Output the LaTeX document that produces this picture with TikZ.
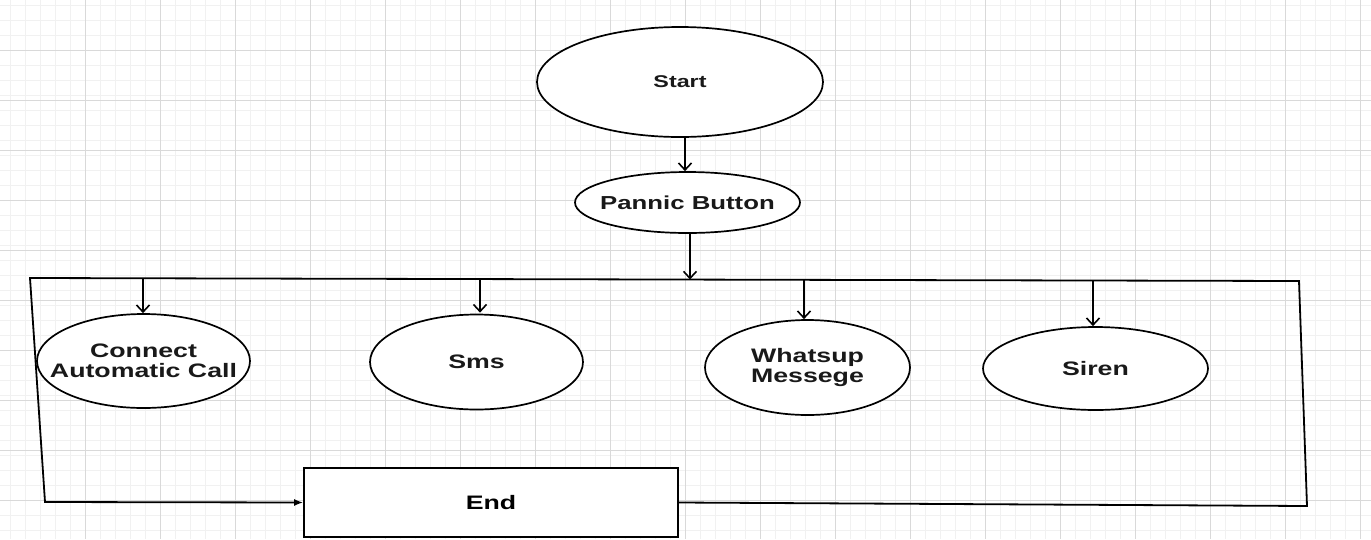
\documentclass[tikz,border=0pt]{standalone}
\usepackage{fontspec}
\newfontfamily\labfont{Liberation Sans}[FakeStretch=1.37]
\usetikzlibrary{arrows.meta,shapes.geometric}
\tikzset{
  gridminor/.style={draw=gray!11, line width=0.4pt},
  gridmajor/.style={draw=gray!30, line width=0.6pt},
  oval/.style={draw=black, line width=1.7pt, fill=white, ellipse, inner sep=0pt},
  labtext/.style={inner sep=0pt, align=center, text=black!90,
    font=\labfont\bfseries\fontsize{19.5}{20}\selectfont},
  endbox/.style={draw=black, line width=1.6pt, fill=white, rectangle, inner sep=0pt,
    minimum width=374pt, minimum height=69pt, font=\labfont\bfseries\fontsize{19.5}{20}\selectfont},
  downarr/.style={draw=black, line width=1.8pt, -{Straight Barb[length=7pt,width=13pt,line width=1.6pt]}},
  framepath/.style={draw=black, line width=1.8pt, line join=miter, -{Latex[length=9pt,width=7pt]}}
}
\begin{document}
\begin{tikzpicture}[x=1pt,y=-1pt]
\useasboundingbox (0,0) rectangle (1371,539);
\fill[white] (0,0) rectangle (1371,539);
% faint paper grid
\foreach \gx in {10,25,...,1370} {\draw[gridminor] (\gx,0) -- (\gx,539);}
\foreach \gy in {5,20,...,535} {\draw[gridminor] (0,\gy) -- (1371,\gy);}
\foreach \gx in {85,160,...,1370} {\draw[gridmajor] (\gx,0) -- (\gx,539);}
\foreach \gy in {50,100,...,535} {\draw[gridmajor] (0,\gy) -- (1371,\gy);}

% nodes
\node[oval, minimum width=286pt, minimum height=110pt,
  label={[name=startt, labtext, font=\labfont\bfseries\fontsize{17}{20}\selectfont]center:Start}] (start) at (680,82) {};
\node[oval, minimum width=225pt, minimum height=61pt,
  label={[name=pannict, labtext, font=\labfont\bfseries\fontsize{18.8}{20}\selectfont]center:Pannic Button}] (pannic) at (687.5,202.5) {};
\node[oval, minimum width=213pt, minimum height=94pt,
  label={[name=callt, labtext]center:{Connect\\Automatic Call}}] (call) at (143.5,361) {};
\node[oval, minimum width=213pt, minimum height=95pt,
  label={[name=smst, labtext]center:Sms}] (sms) at (476.5,362) {};
\node[oval, minimum width=205pt, minimum height=95pt,
  label={[name=whatst, labtext]center:{Whatsup\\Messege}}] (whats) at (807.5,367.5) {};
\node[oval, minimum width=225pt, minimum height=83pt,
  label={[name=sirent, labtext]center:Siren}] (siren) at (1095.5,368.5) {};
\node[endbox] (end) at (491,502.5) {End};

% frame corners and branch points
\coordinate (tl) at (30,278);
\coordinate (tr) at (1299,281);
\coordinate (br) at (1307,506);
\coordinate (bl) at (45,502);
\coordinate (ft) at (690,279.5);
\coordinate (b1) at (143,278.3);
\coordinate (b2) at (480,279.1);
\coordinate (b3) at (804,279.8);
\coordinate (b4) at (1093,280.5);

% connectors
\draw[downarr] ([xshift=5pt]start.south) -- ([xshift=-2.5pt]pannic.north);
\draw[downarr] (ft |- pannic.south) -- (ft);
\draw[framepath] (end.east) -- (br) -- (tr) -- (tl) -- (bl) -- (end.west);
\draw[downarr] (b1) -- (b1 |- call.north);
\draw[downarr] (b2) -- ([yshift=1pt]b2 |- sms.north);
\draw[downarr] (b3) -- (b3 |- whats.north);
\draw[downarr] (b4) -- (b4 |- siren.north);
\end{tikzpicture}
\end{document}
